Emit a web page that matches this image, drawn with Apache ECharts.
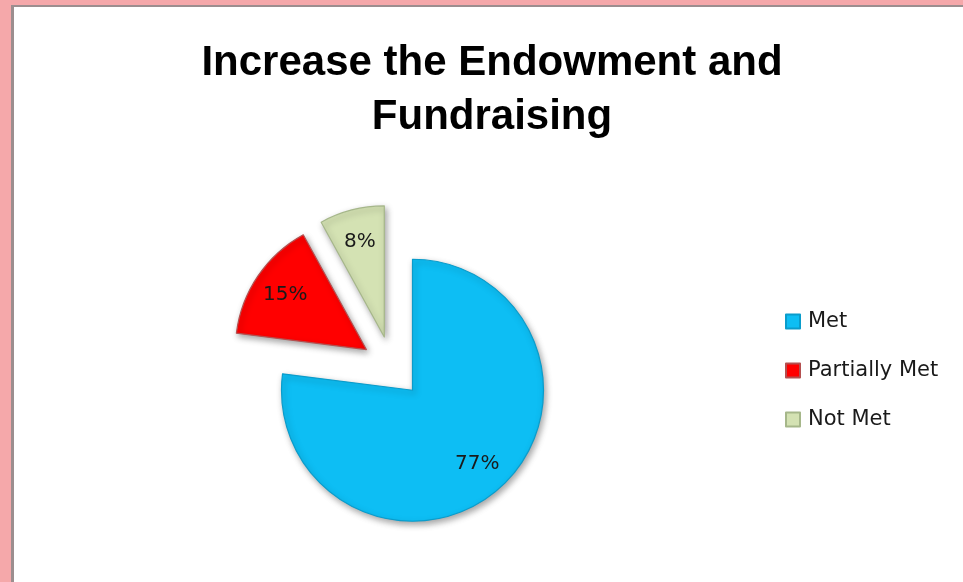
<!DOCTYPE html>
<html>
<head>
<meta charset="utf-8">
<script src="https://cdn.jsdelivr.net/npm/echarts@6/dist/echarts.min.js"></script>
<style>
  html, body { margin: 0; padding: 0; background: #ffffff; }
  #chart { width: 963px; height: 582px; }
</style>
</head>
<body>
<div id="chart"></div>
<script>
// Goal status breakdown
const categories = ['Met', 'Partially Met', 'Not Met'];
const shares = [77, 15, 8];
const sliceColors = ['#0DBEF4', '#FF0000', '#D4E2B3'];
const edgeColors = ['#0A9CCB', '#B45050', '#A6B78A'];
const titleLines = ['Increase the Endowment and', 'Fundraising'];

const pieCenter = [392, 367];
const pieRadius = 131;
const explode = 31;

const chart = echarts.init(document.getElementById('chart'), null, { renderer: 'canvas' });

function sliceData(withStyle) {
  return categories.map((name, i) => ({
    name: name,
    value: shares[i],
    selected: true,
    itemStyle: withStyle ? {
      color: sliceColors[i],
      borderColor: edgeColors[i],
      borderWidth: 1.2
    } : { color: 'rgba(0,0,0,0)', borderWidth: 0 }
  }));
}

chart.setOption({
  animation: false,
  backgroundColor: '#ffffff',
  title: {
    text: titleLines.join('\n'),
    left: 487,
    textAlign: 'center',
    top: 31,
    textStyle: {
      fontFamily: 'Liberation Sans',
      fontWeight: 'bold',
      fontSize: 42,
      lineHeight: 54,
      color: '#000000'
    }
  },
  legend: {
    orient: 'vertical',
    left: 780,
    top: 306,
    itemWidth: 14,
    itemHeight: 14,
    itemGap: 28,
    icon: 'rect',
    selectedMode: false,
    data: categories,
    textStyle: {
      fontFamily: 'DejaVu Sans',
      fontSize: 21,
      lineHeight: 20,
      color: '#1a1a1a',
      padding: [0, 0, 0, 3]
    }
  },
  graphic: [
    // frame edges along the top and left
    { type: 'rect', left: 0, top: 0, shape: { width: 963, height: 5 }, style: { fill: '#F5A8AA' }, silent: true },
    { type: 'rect', left: 0, top: 5, shape: { width: 963, height: 2 }, style: { fill: '#9C8E8F' }, silent: true },
    { type: 'rect', left: 0, top: 0, shape: { width: 11, height: 582 }, style: { fill: '#F5A8AA' }, silent: true },
    { type: 'rect', left: 11, top: 7, shape: { width: 3, height: 575 }, style: { fill: '#9C8E8F' }, silent: true }
  ],
  series: [
    {
      type: 'pie',
      name: 'slices',
      center: pieCenter,
      radius: [0, pieRadius],
      startAngle: 90,
      clockwise: true,
      selectedMode: 'multiple',
      selectedOffset: explode,
      avoidLabelOverlap: false,
      label: { show: false },
      labelLine: { show: false },
      emphasis: { disabled: true },
      itemStyle: {
        shadowBlur: 6,
        shadowColor: 'rgba(0,0,0,0.35)',
        shadowOffsetX: 2,
        shadowOffsetY: 3
      },
      data: sliceData(true)
    },
    {
      type: 'pie',
      name: 'labels',
      center: pieCenter,
      radius: [59, pieRadius],
      startAngle: 90,
      clockwise: true,
      selectedMode: 'multiple',
      selectedOffset: explode,
      silent: true,
      avoidLabelOverlap: false,
      emphasis: { disabled: true },
      label: {
        show: true,
        position: 'inside',
        formatter: '{c}%',
        fontFamily: 'DejaVu Sans',
        fontSize: 20,
        color: '#1a1a1a'
      },
      labelLine: { show: false },
      data: sliceData(false)
    }
  ]
});
</script>
</body>
</html>
